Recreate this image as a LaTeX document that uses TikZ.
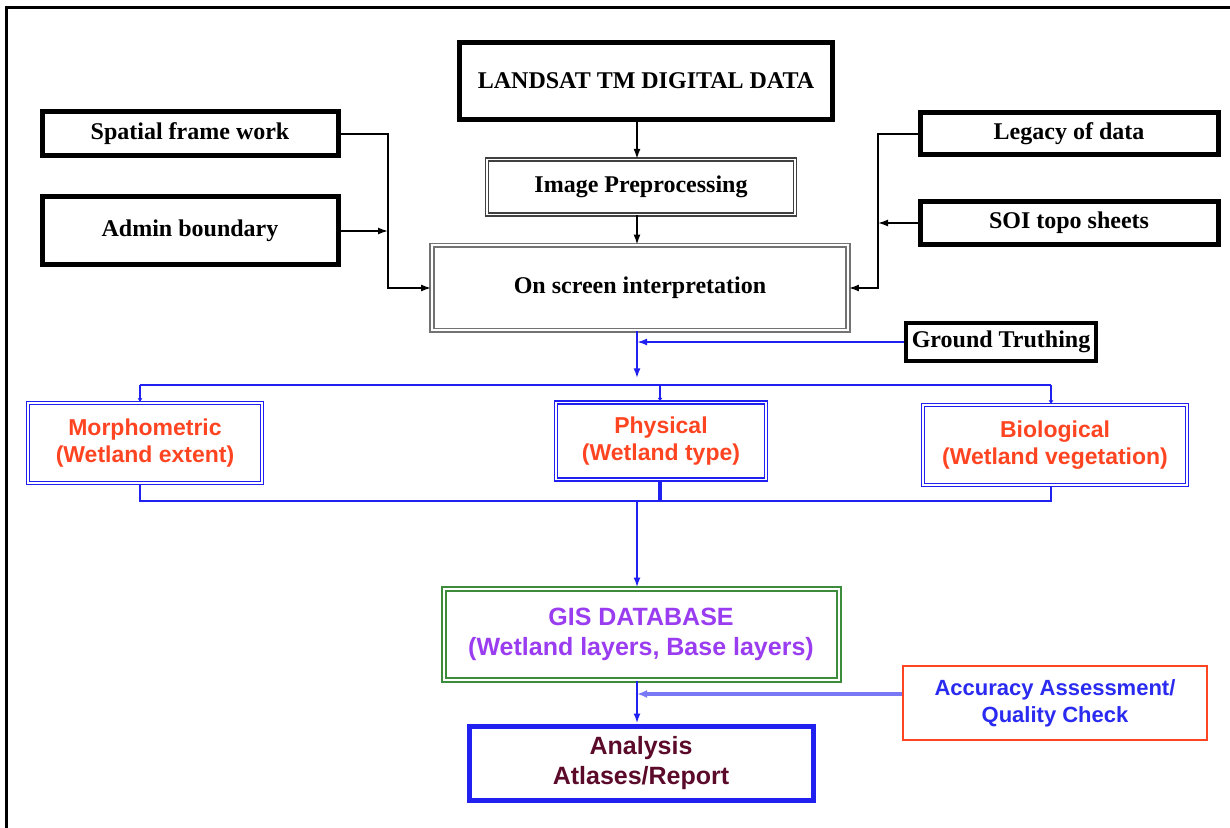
\documentclass[tikz,border=0pt]{standalone}
\usepackage{fontspec}
\setmainfont{Liberation Serif}
\setsansfont{Liberation Sans}
\usetikzlibrary{arrows.meta}

\definecolor{boxred}{HTML}{FF4422}
\definecolor{gispurple}{HTML}{9A3CF0}
\definecolor{maroon}{HTML}{5C0A2A}
\definecolor{accblue}{HTML}{2A2AF0}
\definecolor{linkblue}{HTML}{2020F0}
\definecolor{gisgreen}{HTML}{3C8C3C}

\tikzset{
  srcbox/.style={draw=black, line width=2.5pt, inner sep=0pt, align=center,
    font=\rmfamily\bfseries\fontsize{12}{14}\selectfont},
  procbox/.style={draw=black!75, line width=0.6pt, double=white, double distance=0.9pt,
    inner sep=0pt, align=center, font=\rmfamily\bfseries\fontsize{12}{14}\selectfont},
  classbox/.style={draw=linkblue, line width=0.7pt, double=white, double distance=0.9pt,
    inner sep=0pt, align=center, text=boxred,
    font=\sffamily\bfseries\fontsize{11.5}{13.5}\selectfont},
  blkarr/.style={draw=black, line width=0.8pt, -{Latex[length=5pt,width=3.5pt]}},
  blkline/.style={draw=black, line width=0.8pt},
  bluearr/.style={draw=linkblue, line width=1pt, -{Latex[length=5pt,width=3.5pt]}},
  blueline/.style={draw=linkblue, line width=1pt},
  bluedrop/.style={draw=linkblue, line width=1pt, -{Latex[length=2pt,width=2.5pt]}},
}

\begin{document}
\begin{tikzpicture}[x=0.5pt, y=-0.5pt]
    \useasboundingbox (0,0) rectangle (1230,828);

    % Page frame
    \draw[line width=1.5pt] (6,828) -- (6,8) -- (1230,8);

    % Source data
    \node[srcbox, minimum width=186.5pt, minimum height=38.5pt] (landsat) at (646,81) {LANDSAT TM DIGITAL DATA};
    \node[procbox, minimum width=154pt, minimum height=27.5pt] (imgpre) at (641,187) {Image Preprocessing};
    \node[procbox, draw=black!55, line width=0.9pt, double distance=1pt,
          minimum width=208pt, minimum height=42.5pt] (onscreen) at (640,288) {On screen interpretation};

    % Ancillary inputs
    \node[srcbox, minimum width=148pt, minimum height=22pt] (spatial) at (190,134) {Spatial frame work};
    \node[srcbox, minimum width=148pt, minimum height=34pt] (admin) at (190,231) {Admin boundary};
    \node[srcbox, minimum width=149pt, minimum height=21pt] (legacy) at (1069,134) {Legacy of data};
    \node[srcbox, minimum width=149pt, minimum height=21.5pt] (soi) at (1069,223) {SOI topo sheets};
    \node[srcbox, line width=1.8pt, minimum width=95pt, minimum height=19pt] (ground) at (1001,342) {Ground Truthing};

    % Wetland classes
    \node[classbox, minimum width=117pt, minimum height=40pt] (morph) at (145,443) {Morphometric\\(Wetland extent)};
    \node[classbox, minimum width=105pt, minimum height=38.5pt] (phys) at (661,441) {Physical\\(Wetland type)};
    \node[classbox, minimum width=132pt, minimum height=40pt] (bio) at (1055,445) {Biological\\(Wetland vegetation)};

    % Database and outputs
    \node[draw=gisgreen, line width=1pt, double=white, double distance=1pt, inner sep=0pt,
          minimum width=197.5pt, minimum height=45.5pt, align=center, text=gispurple,
          font=\sffamily\bfseries\fontsize{12.5}{15}\selectfont] (gis) at (641,634)
          {GIS DATABASE\\(Wetland layers, Base layers)};
    \node[draw=boxred, line width=0.8pt, inner sep=0pt, minimum width=152pt, minimum height=37pt,
          align=center, text=accblue, font=\sffamily\bfseries\fontsize{11}{13.5}\selectfont] (acc) at (1055,703)
          {Accuracy Assessment/\\Quality Check};
    \node[draw=linkblue, line width=2.5pt, inner sep=0pt, minimum width=172pt, minimum height=37pt,
          align=center, text=maroon, font=\sffamily\bfseries\fontsize{12.5}{15}\selectfont] (analysis) at (641,763)
          {Analysis\\Atlases/Report};

    % Bus points
    \coordinate (spine) at (637,0);
    \coordinate (lbus) at (388,0);
    \coordinate (rbus) at (878,0);
    \coordinate (mtop) at (140,385);
    \coordinate (ptop) at (660,385);
    \coordinate (btop) at (1051,385);
    \coordinate (mbot) at (140,501);
    \coordinate (pbot) at (660,501);
    \coordinate (bbot) at (1051,501);

    % Main flow
    \draw[blkarr] (landsat.south -| spine) -- (imgpre.north -| spine);
    \draw[blkarr] (imgpre.south -| spine) -- (onscreen.north -| spine);

    % Left inputs
    \draw[blkarr] (spatial.east) -- (spatial.east -| lbus) |- (onscreen.west);
    \draw[blkarr] (admin.east) -- (admin.east -| lbus);

    % Right inputs
    \draw[blkarr] (legacy.west) -- (legacy.west -| rbus) |- (onscreen.east);
    \draw[blkarr] (soi.west) -- (soi.west -| rbus);

    % Interpretation to classes
    \draw[bluearr] (onscreen.south -| spine) -- ++(0,47);
    \draw[bluearr] (ground.west) -- (ground.west -| spine);
    \draw[blueline] (mtop) -- (btop);
    \draw[bluedrop] (mtop) -- (mtop |- morph.north);
    \draw[bluedrop] (ptop) -- (ptop |- phys.north);
    \draw[bluedrop] (btop) -- (btop |- bio.north);

    % Classes to database
    \draw[blueline] (mtop |- morph.south) -- (mbot) -- (bbot) -- (btop |- bio.south);
    \draw[blueline, line width=1.6pt] (ptop |- phys.south) -- (pbot);
    \draw[bluearr] (spine |- pbot) -- (spine |- gis.north);

    % Database to analysis
    \draw[bluearr] (spine |- gis.south) -- (spine |- analysis.north);
    \draw[draw=linkblue!60, line width=1.6pt, -{Latex[length=5pt,width=4pt]}]
        ([yshift=4.5pt]acc.west) -- ([yshift=4.5pt]acc.west -| spine);
\end{tikzpicture}
\end{document}
